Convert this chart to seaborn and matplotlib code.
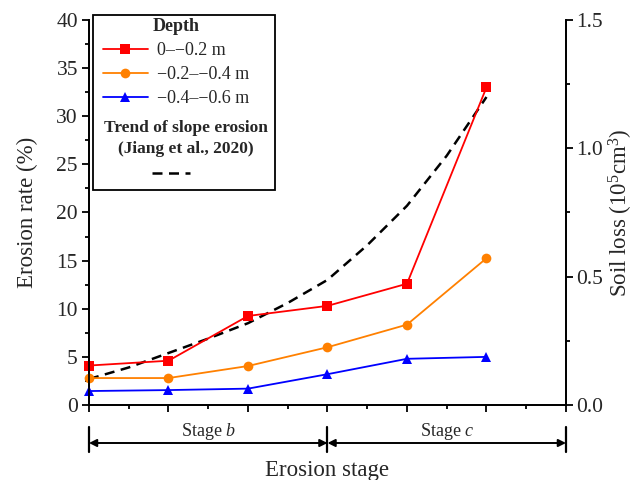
import pandas as pd
import seaborn as sns
import matplotlib.pyplot as plt
from matplotlib.patches import Rectangle
from matplotlib.ticker import MultipleLocator

# Data
position = [0, 1, 2, 3, 4, 5]
rate_0_02 = [4.1, 4.6, 9.25, 10.3, 12.6, 33.0]
rate_02_04 = [2.8, 2.8, 4.05, 6.0, 8.35, 15.25]
rate_04_06 = [1.45, 1.55, 1.7, 3.2, 4.8, 5.0]
depth_labels = ['0\u2013\u22120.2 m', '\u22120.2\u2013\u22120.4 m', '\u22120.4\u2013\u22120.6 m']

# Trend of slope erosion (Jiang et al., 2020), read at half steps
trend_x = [0, 0.5, 1, 1.5, 2, 2.5, 3, 3.5, 4, 4.5, 5]
trend_y = [2.7, 3.9, 5.4, 6.9, 8.5, 10.6, 13.0, 16.6, 20.7, 25.9, 32.0]

# Stages along the x axis
stage_bounds = [0, 3, 6]
stage_labels = ['Stage $b$', 'Stage $c$']

# Long format table for seaborn
df = pd.DataFrame({
    'Position': position * 3,
    'Erosion rate': rate_0_02 + rate_02_04 + rate_04_06,
    'Depth': [depth_labels[0]] * 6 + [depth_labels[1]] * 6 + [depth_labels[2]] * 6,
})

sns.set_style('ticks')
plt.rcParams['font.family'] = ['Liberation Serif', 'DejaVu Serif']
plt.rcParams['mathtext.fontset'] = 'custom'
plt.rcParams['mathtext.rm'] = 'Liberation Serif'
plt.rcParams['mathtext.it'] = 'Liberation Serif:italic'
plt.rcParams['axes.linewidth'] = 1.3
plt.rcParams['axes.edgecolor'] = 'black'

fig = plt.figure(figsize=(6.37, 4.8), dpi=100)
ax = fig.add_axes([0.1397, 0.15625, 0.7488, 0.8021])

palette = {depth_labels[0]: '#FF0000', depth_labels[1]: '#FF8000', depth_labels[2]: '#0000FF'}
markers = {depth_labels[0]: 's', depth_labels[1]: 'o', depth_labels[2]: '^'}

sns.lineplot(data=df, x='Position', y='Erosion rate', hue='Depth', style='Depth',
             palette=palette, markers=markers, dashes=False, markersize=7,
             markeredgewidth=0, linewidth=1.3, clip_on=False, ax=ax, zorder=3)
sns.lineplot(x=trend_x, y=trend_y, color='black', linewidth=1.8, ax=ax,
             legend=False, zorder=2)
ax.lines[-1].set_linestyle((0, (4, 2.6)))

ax.set_xlim(stage_bounds[0], stage_bounds[-1])
ax.set_ylim(0, 40)
ax.xaxis.set_major_locator(MultipleLocator(1))
ax.xaxis.set_minor_locator(MultipleLocator(0.5))
ax.yaxis.set_major_locator(MultipleLocator(5))
ax.yaxis.set_minor_locator(MultipleLocator(2.5))
ax.set_xticklabels([])
ax.tick_params(which='major', length=5, width=1.3, labelsize=15.5, pad=3, color='black')
ax.tick_params(which='minor', length=3, width=1.3, color='black')
ax.spines['top'].set_visible(False)

ax.set_ylabel('Erosion rate (%)', fontsize=16.5, labelpad=13)
ax.set_xlabel('Erosion stage', fontsize=16.5)
ax.xaxis.set_label_coords(0.5, -0.143)

# Right axis for soil loss
ax2 = ax.twinx()
ax2.set_ylim(0, 1.5)
ax2.yaxis.set_major_locator(MultipleLocator(0.5))
ax2.yaxis.set_minor_locator(MultipleLocator(0.25))
ax2.yaxis.set_major_formatter('{x:.1f}')
ax2.tick_params(which='major', length=5, width=1.3, labelsize=15.5, pad=2, color='black')
ax2.tick_params(which='minor', length=3, width=1.3, color='black')
ax2.spines['top'].set_visible(False)
ax2.set_ylabel('Soil loss ($\\mathregular{10^5cm^3}$)', fontsize=16.5, labelpad=3)

# Legend
handles, labels = ax.get_legend_handles_labels()
leg = ax.legend(handles[:3], labels[:3], loc='upper left', bbox_to_anchor=(0.029, 1.006),
                frameon=False, title='Depth', fontsize=13, borderpad=0, borderaxespad=0,
                handlelength=2.5, handletextpad=0.5, labelspacing=0.4,
                title_fontproperties={'weight': 'bold', 'size': 13})
ax.add_patch(Rectangle((0.0084, 0.558), 0.382, 0.455, transform=ax.transAxes,
                       fill=False, edgecolor='black', linewidth=1.3, clip_on=False, zorder=5))
ax.text(0.203, 0.692, 'Trend of slope erosion\n(Jiang et al., 2020)', transform=ax.transAxes,
        ha='center', va='center', fontsize=12.5, fontweight='bold', linespacing=1.4)
ax.plot([0.132, 0.212], [0.603, 0.603], transform=ax.transAxes, color='black',
        linewidth=1.8, linestyle=(0, (4, 2.6)))

# Stage arrows under the x axis
trans = ax.get_xaxis_transform()
for b in stage_bounds:
    ax.plot([b, b], [-0.057, -0.122], transform=trans, color='black', linewidth=1.6, clip_on=False)
for i, lab in enumerate(stage_labels):
    ax.annotate('', xy=(stage_bounds[i], -0.0987), xytext=(stage_bounds[i + 1], -0.0987),
                xycoords=trans, textcoords=trans,
                arrowprops=dict(arrowstyle='<|-|>', color='black', lw=1.4,
                                shrinkA=0, shrinkB=0, mutation_scale=11))
    ax.text((stage_bounds[i] + stage_bounds[i + 1]) / 2, -0.068, lab, transform=trans,
            ha='center', va='center', fontsize=13)

fig.savefig('out.png', dpi=100)
